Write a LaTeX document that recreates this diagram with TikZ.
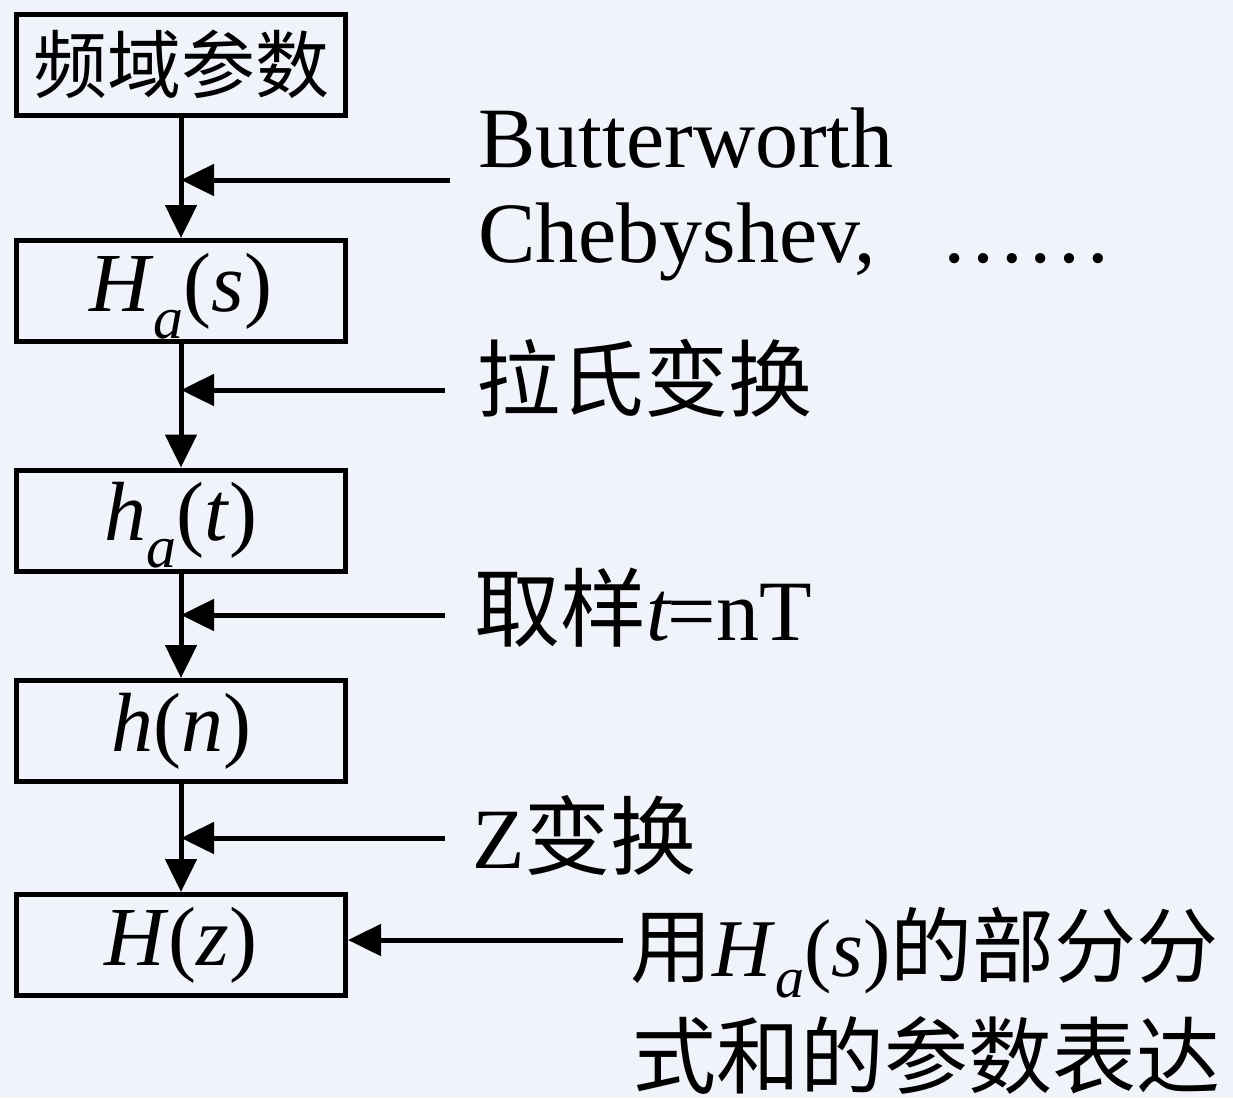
\documentclass[tikz,border=0pt]{standalone}
\usepackage{fontspec}
\setmainfont{Liberation Serif}
\newfontfamily\cjk{Noto Sans CJK SC}
\usetikzlibrary{arrows.meta}
\definecolor{bgc}{RGB}{240,243,250}
\newcommand{\subA}{\raisebox{-0.32em}[\height][0pt]{\fontsize{60}{62}\selectfont\itshape a}}
\newcommand{\subAl}{\raisebox{-0.26em}[\height][0pt]{\fontsize{58}{60}\selectfont\itshape a}}
\begin{document}
\begin{tikzpicture}[x=1pt,y=-1pt,
  box/.style={draw,line width=5pt,minimum width=329pt,minimum height=101pt,inner sep=0pt,font=\fontsize{84}{88}\selectfont},
  lbl/.style={anchor=base west,inner sep=0pt,font=\fontsize{86}{90}\selectfont},
  arr/.style={line width=5pt,-{Triangle[length=33pt,width=31pt]}}]
\fill[bgc] (0,0) rectangle (1233,1098);
\useasboundingbox (0,0) rectangle (1233,1098);
% boxes
\node[box,font=\fontsize{74}{78}\selectfont\cjk] (b1) at (181,64.5) {频域参数};
\node[box] (b2) at (181,291) {\textit{H}\subA(\textit{s})};
\node[box] (b3) at (181,520.5) {\textit{h}\subA(\textit{t})};
\node[box] (b4) at (181,731) {\textit{h}(\textit{n})};
\node[box] (b5) at (181,945) {\textit{H}(\textit{z})};
% vertical arrows
\draw[arr] (b1.south) -- (b2.north);
\draw[arr] (b2.south) -- (b3.north);
\draw[arr] (b3.south) -- (b4.north);
\draw[arr] (b4.south) -- (b5.north);
% side inputs
\coordinate (s1) at (450,180);
\coordinate (s2) at (445,390);
\coordinate (s3) at (445,615);
\coordinate (s4) at (445,838);
\coordinate (s5) at (623,940);
\draw[arr] (s1) -- (b1.south |- s1);
\draw[arr] (s2) -- (b2.south |- s2);
\draw[arr] (s3) -- (b3.south |- s3);
\draw[arr] (s4) -- (b4.south |- s4);
\draw[arr] (s5) -- (b5.east |- s5);
% labels
\node[lbl] (l1a) at (478,167) {Butterworth};
\node[lbl] (l1b) at (478,262) {Chebyshev,\hspace{0.75em}……};
\node[lbl,font=\fontsize{84}{88}\selectfont\cjk] (l2) at (476,410) {拉氏变换};
\node[lbl] (l3) at (474,640) {{\cjk 取样}\textit{t}\kern-0.05em=nT};
\node[lbl] (l4) at (472,868) {Z{\cjk 变换}};
\node[lbl,font=\fontsize{82}{86}\selectfont] (l5a) at (630,976) {{\cjk 用}\textit{H}\subAl(\textit{s}){\cjk 的部分分}};
\node[lbl,font=\fontsize{84}{88}\selectfont\cjk] (l5b) at (632,1087) {式和的参数表达};
\end{tikzpicture}
\end{document}
